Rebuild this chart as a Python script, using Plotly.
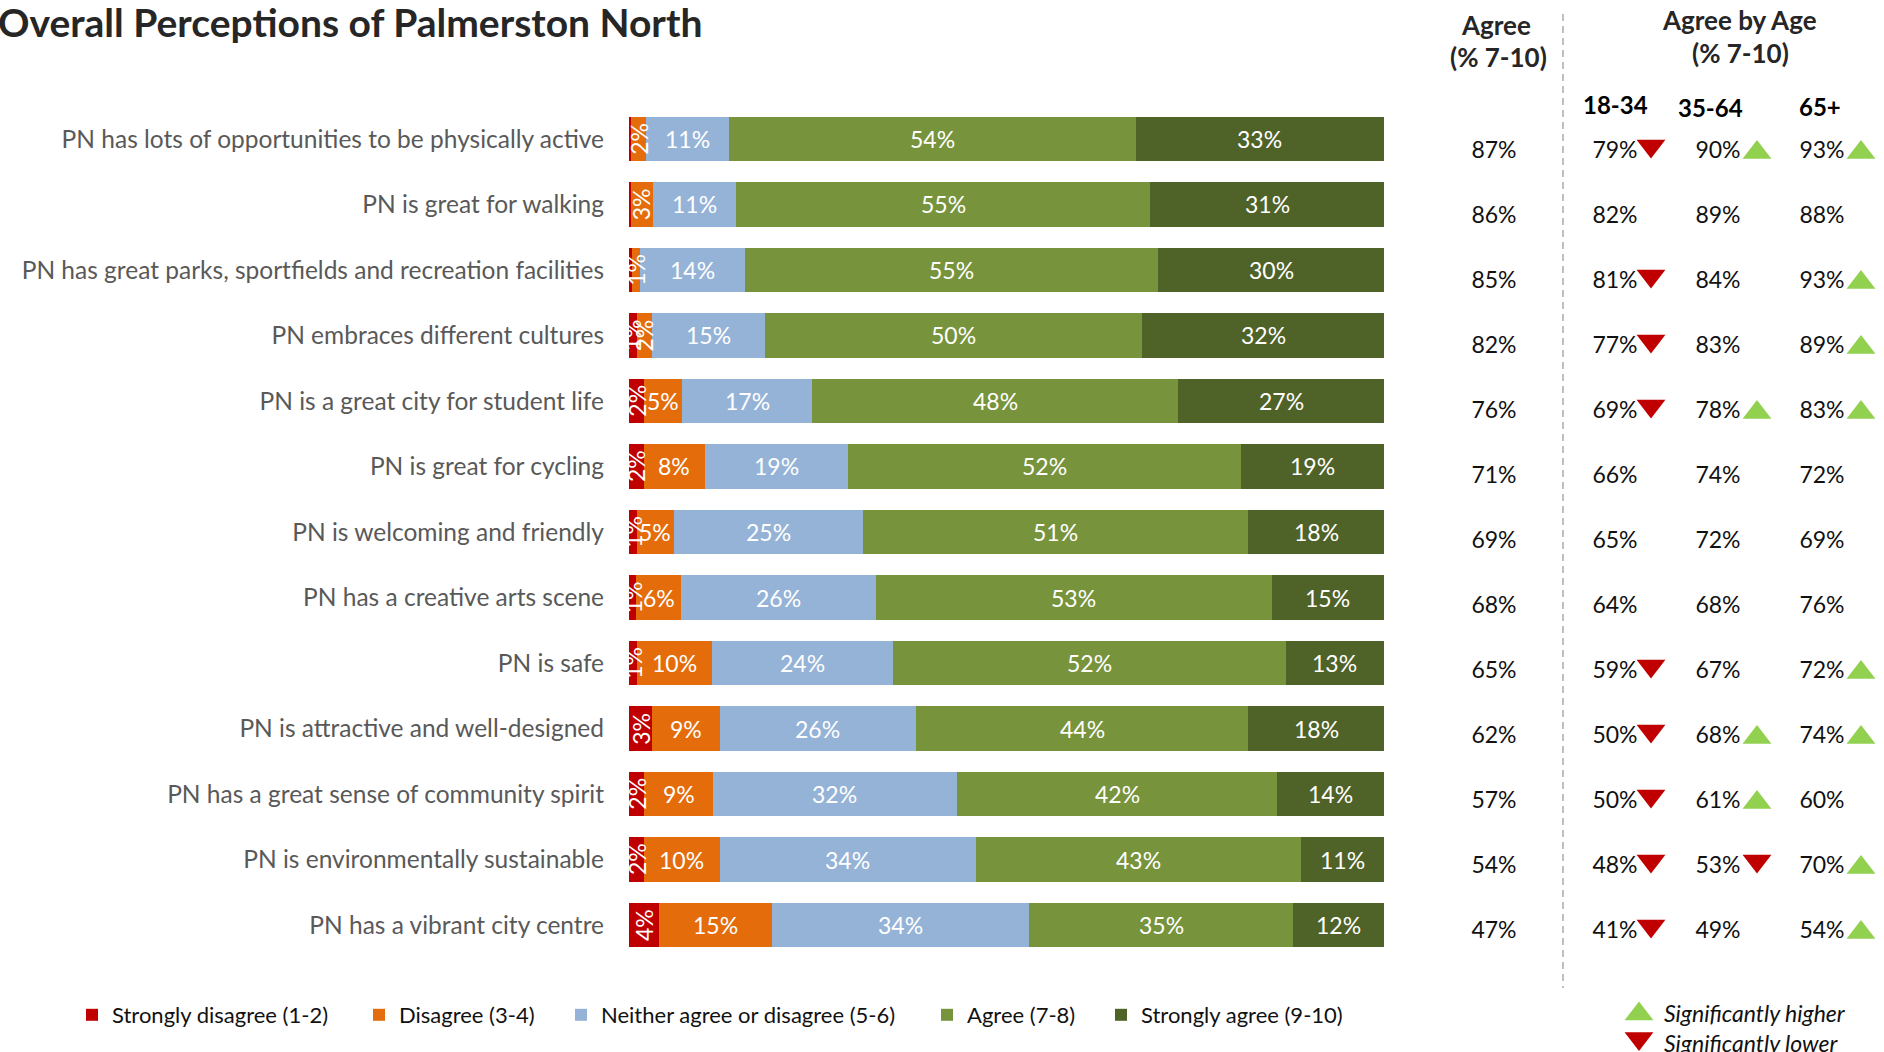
import plotly.graph_objects as go

# ---------------------------------------------------------------- data
categories = [
    "PN has lots of opportunities to be physically active",
    "PN is great for walking",
    "PN has great parks, sportfields and recreation facilities",
    "PN embraces different cultures",
    "PN is a great city for student life",
    "PN is great for cycling",
    "PN is welcoming and friendly",
    "PN has a creative arts scene",
    "PN is safe",
    "PN is attractive and well-designed",
    "PN has a great sense of community spirit",
    "PN is environmentally sustainable",
    "PN has a vibrant city centre",
]

series_names = [
    "Strongly disagree (1-2)",
    "Disagree (3-4)",
    "Neither agree or disagree (5-6)",
    "Agree (7-8)",
    "Strongly agree (9-10)",
]
strongly_disagree = [0.3, 0.2, 0.4, 1, 2, 2, 1, 1, 1, 3, 2, 2, 4]
disagree = [2, 3, 1, 2, 5, 8, 5, 6, 10, 9, 9, 10, 15]
neither = [11, 11, 14, 15, 17, 19, 25, 26, 24, 26, 32, 34, 34]
agree_7_8 = [54, 55, 55, 50, 48, 52, 51, 53, 52, 44, 42, 43, 35]
strongly_agree = [33, 31, 30, 32, 27, 19, 18, 15, 13, 18, 14, 11, 12]

agree_total = [87, 86, 85, 82, 76, 71, 69, 68, 65, 62, 57, 54, 47]
age_groups = ["18-34", "35-64", "65+"]
age_18_34 = [79, 82, 81, 77, 69, 66, 65, 64, 59, 50, 50, 48, 41]
age_35_64 = [90, 89, 84, 83, 78, 74, 72, 68, 67, 68, 61, 53, 49]
age_65_plus = [93, 88, 93, 89, 83, 72, 69, 76, 72, 74, 60, 70, 54]
# significance vs. total: 1 = higher, -1 = lower, 0 = not significant
sig_18_34 = [-1, 0, -1, -1, -1, 0, 0, 0, -1, -1, -1, -1, -1]
sig_35_64 = [1, 0, 0, 0, 1, 0, 0, 0, 0, 1, 1, -1, 0]
sig_65_plus = [1, 0, 1, 1, 1, 0, 0, 0, 1, 1, 0, 1, 1]
sig_key = ["Significantly higher", "Significantly lower"]

# ---------------------------------------------------------------- style
W, H = 1884, 1052
FONT = "Lato, 'Open Sans', sans-serif"
colors = ["#C00000", "#E46C0A", "#95B3D7", "#77933C", "#4F6228"]
UP_COLOR, DOWN_COLOR = "#92D050", "#C00000"
TRI_SIZE = 25


def fx(p):
    return p / W


def fy(p):
    return 1 - p / H


n = len(categories)
ROW_TOP, ROW_STEP = 139, 65.5
y_top = ROW_TOP - ROW_STEP / 2
y_bot = ROW_TOP + ROW_STEP * (n - 1) + ROW_STEP / 2

# right-hand table: x2 spans the page width, y2 counts table rows over the full height
TAB_TOP, TAB_STEP = 152.5, 65
col_text_x = [1494, 1615, 1718, 1822]
col_tri_x = [None, 1651, 1757, 1861]


def row_of(p):
    return (p - TAB_TOP) / TAB_STEP


fig = go.Figure()

series = [strongly_disagree, disagree, neither, agree_7_8, strongly_agree]
legend_ids = ["legend", "legend2", "legend3", "legend4", "legend5"]
for name, vals, col, lg in zip(series_names, series, colors, legend_ids):
    fig.add_trace(go.Bar(
        y=categories, x=vals, orientation="h", name=name,
        marker=dict(color=col, line=dict(width=0)),
        legend=lg, hoverinfo="x+y+name",
    ))

annotations = []

# segment labels, placed at the middle of each normalised segment
for r, cat in enumerate(categories):
    row = [s[r] for s in series]
    total = sum(row)
    cum = 0
    for v in row:
        if v >= 0.5:
            annotations.append(dict(
                x=(cum + v / 2) / total * 100, y=cat, xref="x", yref="y",
                text=f"{v:g}%", showarrow=False,
                textangle=-90 if v <= 4 else 0,
                font=dict(family=FONT, size=23, color="white"),
            ))
        cum += v

# right-hand table values
rows_idx = list(range(n))
for cx, vals in zip(col_text_x, [agree_total, age_18_34, age_35_64, age_65_plus]):
    fig.add_trace(go.Scatter(
        x=[cx] * n, y=rows_idx, mode="text", text=[f"{v}%" for v in vals],
        textfont=dict(family=FONT, size=23, color="#111111"),
        xaxis="x2", yaxis="y2", showlegend=False, hoverinfo="skip",
    ))

up_x, up_y, dn_x, dn_y = [], [], [], []
for tx, sig in zip(col_tri_x[1:], [sig_18_34, sig_35_64, sig_65_plus]):
    for r, s in enumerate(sig):
        if s > 0:
            up_x.append(tx)
            up_y.append(r)
        elif s < 0:
            dn_x.append(tx)
            dn_y.append(r - 0.1)

# key entries for the significance arrows sit below the table
up_x.append(1639)
up_y.append(row_of(1014))
dn_x.append(1639)
dn_y.append(row_of(1038.5))

fig.add_trace(go.Scatter(
    x=up_x, y=up_y, mode="markers", name=sig_key[0],
    marker=dict(symbol="triangle-up", size=TRI_SIZE, color=UP_COLOR),
    xaxis="x2", yaxis="y2", showlegend=False, hoverinfo="skip",
))
fig.add_trace(go.Scatter(
    x=dn_x, y=dn_y, mode="markers", name=sig_key[1],
    marker=dict(symbol="triangle-down", size=TRI_SIZE, color=DOWN_COLOR),
    xaxis="x2", yaxis="y2", showlegend=False, hoverinfo="skip",
))
for txt, y in zip(sig_key, [1013, 1043]):
    annotations.append(dict(
        x=fx(1662), y=fy(y), xref="paper", yref="paper", xanchor="left", yanchor="middle",
        text=f"<i>{txt}</i>", showarrow=False,
        font=dict(family=FONT, size=23, color="#111111"),
    ))

# headings
annotations.append(dict(
    x=fx(-4), y=fy(22), xref="paper", yref="paper", xanchor="left", yanchor="middle",
    text="<b>Overall Perceptions of Palmerston North</b>", showarrow=False,
    font=dict(family=FONT, size=39, color="#262626"),
))
head_font = dict(family=FONT, size=26, color="#262626")
for txt, x, y in [
    ("Agree", 1496, 25), ("(% 7-10)", 1498, 57),
    ("Agree by Age", 1739, 20), ("(% 7-10)", 1740, 53),
]:
    annotations.append(dict(
        x=fx(x), y=fy(y), xref="paper", yref="paper", xanchor="center", yanchor="middle",
        text=f"<b>{txt}</b>", showarrow=False, font=head_font,
    ))
for txt, x, y in zip(age_groups, [1615, 1710, 1820], [105, 108, 106]):
    annotations.append(dict(
        x=fx(x), y=fy(y), xref="paper", yref="paper", xanchor="center", yanchor="middle",
        text=f"<b>{txt}</b>", showarrow=False, font=dict(family=FONT, size=24, color="#000000"),
    ))

legend_text_x = [112, 399, 601, 967, 1141]
legend_base = dict(
    y=fy(1015), yanchor="middle", xanchor="left", orientation="h",
    bgcolor="rgba(0,0,0,0)", borderwidth=0,
    font=dict(family=FONT, size=22, color="#111111"),
)
legends = {}
for lg, tx in zip(legend_ids, legend_text_x):
    legends[lg] = dict(legend_base, x=fx(tx - 40))

fig.update_layout(
    width=W, height=H,
    margin=dict(l=0, r=0, t=0, b=0, autoexpand=False),
    paper_bgcolor="white", plot_bgcolor="rgba(0,0,0,0)",
    barmode="stack", barnorm="percent", bargap=0.328,
    xaxis=dict(domain=[fx(629), fx(1384)], range=[0, 100], visible=False, fixedrange=True),
    yaxis=dict(
        domain=[fy(y_bot), fy(y_top)], type="category",
        categoryorder="array", categoryarray=categories,
        range=[n - 0.5, -0.5], showgrid=False, zeroline=False, showline=False,
        ticks="", ticklabelstandoff=24,
        tickfont=dict(family=FONT, size=24.5, color="#595959"),
    ),
    xaxis2=dict(domain=[0, 1], range=[0, W], anchor="y2", visible=False),
    yaxis2=dict(
        domain=[0, 1], anchor="x2", visible=False,
        range=[row_of(H), row_of(0)],
    ),
    shapes=[dict(
        type="line", xref="paper", yref="paper",
        x0=fx(1563), x1=fx(1563), y0=fy(14), y1=fy(988),
        line=dict(color="#BFBFBF", width=2, dash="7px,5px"),
    )],
    annotations=annotations,
    **legends,
)

fig.write_html("out.html")
